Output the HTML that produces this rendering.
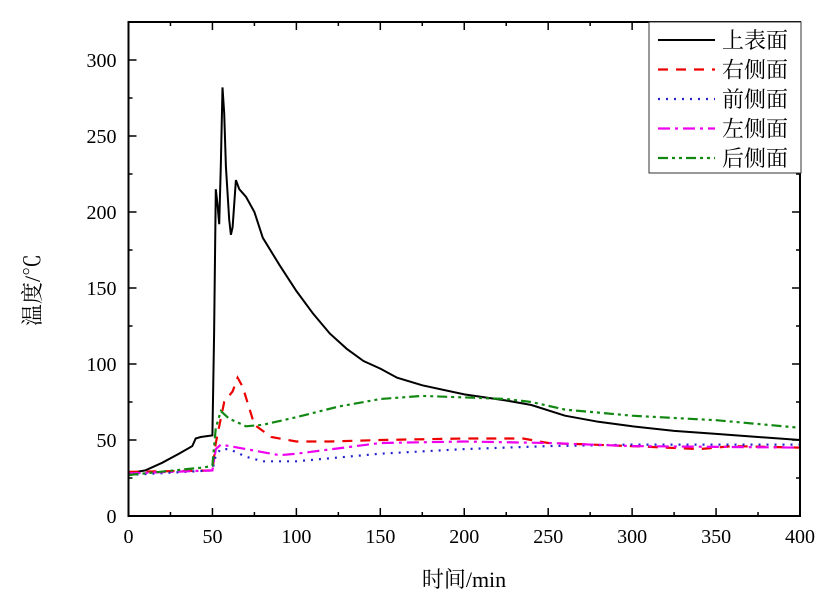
<!DOCTYPE html>
<html><head><meta charset="utf-8"><style>
body{margin:0;background:#fff}
svg text{font-family:"Liberation Serif","Noto Serif CJK SC",serif;fill:#000}
</style></head><body>
<svg width="832" height="596" id="c">
<g id="plot"></g>
</svg>
<script>
const xTicks=[0,50,100,150,200,250,300,350,400];
const yTicks=[0,50,100,150,200,250,300];
const sTopX=[0,10,20,30,38,40,43,50,51,52,53,54,55,56,57,58,60,61,62,64,66,70,75,80,90,100,110,120,130,140,150,160,175,200,225,240,260,280,300,325,350,375,400];
const sTopY=[28,30,35,41,46,51,52,53,120,215,205,192,230,282,265,230,195,185,190,221,215,210,200,183,165,148,133,120,110,102,97,91,86,80,76,73,66,62,59,56,54,52,50];
const sRightX=[0,50,52,57,62,65,68,75,85,100,120,150,200,235,250,300,340,360,400];
const sRightY=[29,30,48,75,82,91,85,60,52,49,49,50,51,51,48,46,44,46,45];
const sFrontX=[0,50,52,55,60,70,80,100,150,200,250,300,400];
const sFrontY=[27,30,40,44,44,39,36,36,41,44,46,47,47];
const sLeftX=[0,50,52,55,70,90,100,150,200,250,300,400];
const sLeftY=[28,30,44,47,44,40,41,48,49,48,46,45];
const sBackX=[0,45,50,52,55,60,70,80,100,125,150,175,200,225,240,260,300,350,400];
const sBackY=[27,32,33,58,69,64,59,60,65,72,77,79,78,77,75,70,66,63,58];
const L=128.5,R=800,T=22,B=516;
const sx=v=>L+(v/400)*(R-L);
const sy=v=>B-(v/325)*(B-T);
const g=document.getElementById('plot');
const NS='http://www.w3.org/2000/svg';
function mk(t,a,p){const e=document.createElementNS(NS,t);for(const k in a)e.setAttribute(k,a[k]);(p||g).appendChild(e);return e;}
const series=[
 ['series-top-surface',sTopX,sTopY,'#000','','2'],
 ['series-right-side',sRightX,sRightY,'#e00','10 8','2.2'],
 ['series-front-side',sFrontX,sFrontY,'#22c','2 6','2.2'],
 ['series-left-side',sLeftX,sLeftY,'#e0e','12 5 3 5','2.2'],
 ['series-back-side',sBackX,sBackY,'#181','10 4 3 4 3 4','2.2']];
series.forEach(s=>{
 const d=s[1].map((x,i)=>(i?'L':'M')+sx(x).toFixed(1)+','+sy(s[2][i]).toFixed(1)).join('');
 const p=mk('path',{d:d,fill:'none',stroke:s[3],'stroke-width':s[5],'stroke-dasharray':s[4]});
 
 
});
const fr=mk('rect',{x:L,y:T,width:R-L,height:B-T,fill:'none',stroke:'#000','stroke-width':2});


xTicks.forEach(v=>{
 mk('line',{x1:sx(v),x2:sx(v),y1:B,y2:B-8,stroke:'#000','stroke-width':1.5});
 mk('line',{x1:sx(v),x2:sx(v),y1:T,y2:T+8,stroke:'#000','stroke-width':1.5});
 if(v<400){mk('line',{x1:sx(v+25),x2:sx(v+25),y1:B,y2:B-4,stroke:'#000','stroke-width':1.5});mk('line',{x1:sx(v+25),x2:sx(v+25),y1:T,y2:T+4,stroke:'#000','stroke-width':1.5});}
 const t=mk('text',{x:sx(v),y:B+27,'text-anchor':'middle','font-size':20});t.textContent=v;
 
 
});
yTicks.forEach(v=>{
 mk('line',{x1:L,x2:L+8,y1:sy(v),y2:sy(v),stroke:'#000','stroke-width':1.5});
 mk('line',{x1:R,x2:R-8,y1:sy(v),y2:sy(v),stroke:'#000','stroke-width':1.5});
 mk('line',{x1:L,x2:L+4,y1:sy(v+25),y2:sy(v+25),stroke:'#000','stroke-width':1.5});
 mk('line',{x1:R,x2:R-4,y1:sy(v+25),y2:sy(v+25),stroke:'#000','stroke-width':1.5});
 const t=mk('text',{x:L-12,y:sy(v)+7,'text-anchor':'end','font-size':20});t.textContent=v;
 
 
});
const xt=mk('text',{x:464,y:587,'text-anchor':'middle','font-size':22});xt.textContent='时间/min';


const yt=mk('text',{x:40,y:290,'text-anchor':'middle','font-size':22,transform:'rotate(-90 40 290)'});yt.textContent='温度/℃';


const lg=mk('g',{});


mk('rect',{x:649,y:22,width:152,height:151,fill:'#fff',stroke:'#333','stroke-width':1},lg);
const names=['上表面','右侧面','前侧面','左侧面','后侧面'];
series.forEach((s,i)=>{
 const y=40+i*29.5;
 mk('line',{x1:658,x2:715,y1:y,y2:y,stroke:s[3],'stroke-width':s[5],'stroke-dasharray':s[4]},lg);
 const t=mk('text',{x:722,y:y+8,'font-size':22},lg);t.textContent=names[i];
 
 
});
</script>
</body></html>
